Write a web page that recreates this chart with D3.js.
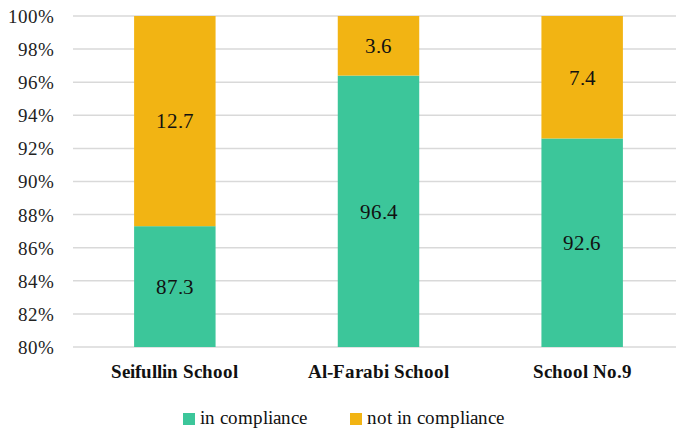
<!DOCTYPE html>
<html>
<head>
<meta charset="utf-8">
<script src="https://cdn.jsdelivr.net/npm/d3@7"></script>
<style>
  @font-face { font-family: "ChartSerif"; font-weight: 400; src: local("Liberation Serif"), local("LiberationSerif"), local("Liberation Serif Regular"); }
  @font-face { font-family: "ChartSerif"; font-weight: 700; src: local("Liberation Serif Bold"), local("LiberationSerif-Bold"); }
  html, body { margin: 0; padding: 0; background: #fff; }
  svg { display: block; }
  svg text { font-family: "ChartSerif", "Liberation Serif", serif; }
</style>
</head>
<body>
<svg id="plot" width="676" height="433"></svg>
<script>
// Schools and their compliance shares (percent)
const categories = ["Seifullin School", "Al-Farabi School", "School No.9"];
const inCompliance = [87.3, 96.4, 92.6];
const notInCompliance = [12.7, 3.6, 7.4];
const seriesNames = ["in compliance", "not in compliance"];
const seriesColors = ["#3CC69A", "#F2B413"];
const yTicks = [80, 82, 84, 86, 88, 90, 92, 94, 96, 98, 100];

const svg = d3.select("#plot");
const margin = { left: 73, right: -8, top: 16, bottom: 86 };
const W = 676, H = 433;

const x = d3.scaleBand()
  .domain(categories)
  .range([margin.left, W - margin.right])
  .paddingInner(0.6)
  .paddingOuter(0.3);

const y = d3.scaleLinear()
  .domain([80, 100])
  .range([H - margin.bottom, margin.top]);

// Horizontal gridlines
svg.append("g")
  .selectAll("line")
  .data(yTicks)
  .join("line")
  .attr("x1", margin.left)
  .attr("x2", W - margin.right)
  .attr("y1", d => y(d))
  .attr("y2", d => y(d))
  .attr("stroke", "#d9d9d9")
  .attr("stroke-width", 1.5);

// Y axis tick labels
const gy = svg.append("g")
  .attr("transform", "translate(54,0)")
  .call(d3.axisLeft(y).tickValues(yTicks).tickFormat(d => d + "%").tickSize(0).tickPadding(0));
gy.attr("font-family", null).attr("font-size", null);
gy.select(".domain").remove();
gy.selectAll("text")
  .style("font-size", "19px")
  .attr("fill", "#222")
  .attr("dy", "0.34em");

// Stacked bars
const rows = categories.map((c, i) => ({ cat: c, a: inCompliance[i], b: notInCompliance[i] }));
const stacked = d3.stack().keys(["a", "b"])(rows);

const layers = svg.append("g")
  .selectAll("g")
  .data(stacked)
  .join("g")
  .attr("fill", (d, i) => seriesColors[i]);

layers.selectAll("rect")
  .data(d => d)
  .join("rect")
  .attr("x", d => x(d.data.cat))
  .attr("width", x.bandwidth())
  .attr("y", d => y(Math.min(d[1], 100)))
  .attr("height", d => y(Math.max(d[0], 80)) - y(Math.min(d[1], 100)));

// Value labels centred in the visible part of each segment
layers.selectAll("text")
  .data((d, i) => d.map(s => ({ s, v: i === 0 ? s.data.a : s.data.b })))
  .join("text")
  .attr("x", d => x(d.s.data.cat) + x.bandwidth() / 2)
  .attr("y", d => (y(Math.max(d.s[0], 80)) + y(Math.min(d.s[1], 100))) / 2)
  .attr("dy", "0.35em")
  .attr("text-anchor", "middle")
  .style("font-size", "21px")
  .attr("fill", "#111")
  .text(d => d.v.toFixed(1));

// Category labels
const gx = svg.append("g")
  .attr("transform", `translate(0,${y(80)})`)
  .call(d3.axisBottom(x).tickSize(0).tickPadding(0));
gx.attr("font-family", null).attr("font-size", null);
gx.select(".domain").remove();
gx.selectAll("text")
  .style("font-size", "19px")
  .style("font-weight", "700")
  .attr("fill", "#111")
  .attr("dy", 0)
  .attr("y", 31);

// Legend
const legendX = [183, 350];
const legend = svg.append("g")
  .selectAll("g")
  .data(seriesNames)
  .join("g")
  .attr("transform", (d, i) => `translate(${legendX[i]},413)`);
legend.append("rect")
  .attr("width", 12).attr("height", 12)
  .attr("fill", (d, i) => seriesColors[i]);
legend.append("text")
  .attr("x", 17).attr("y", 11)
  .style("font-size", "19px")
  .attr("fill", "#111")
  .text(d => d);
</script>
</body>
</html>
